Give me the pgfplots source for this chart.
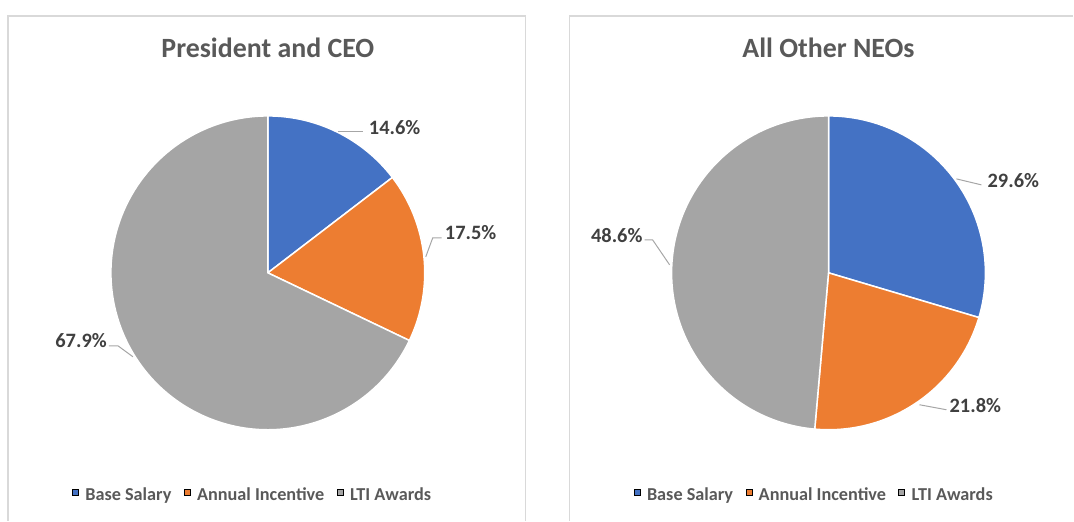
\documentclass[border=0pt]{standalone}
\usepackage{pgfplots}
\pgfplotsset{compat=1.18}
\usepackage{fontspec}
\setmainfont{Carlito}

\definecolor{sblue}{HTML}{4472C4}
\definecolor{sorange}{HTML}{ED7D31}
\definecolor{sgray}{HTML}{A5A5A5}
\definecolor{ttext}{HTML}{595959}
\definecolor{ltext}{HTML}{404040}
\definecolor{frame}{HTML}{D9D9D9}
\definecolor{lead}{HTML}{A6A6A6}

\pgfplotsset{
  panel/.style={
    x=1bp, y=1bp, xmin=0, xmax=1074, ymin=0, ymax=521,
    scale only axis, hide axis, clip=false,
    at={(0,0)}, anchor=south west,
    legend columns=3,
    legend image code/.code={\fill[##1] (0bp,-1bp) rectangle (6bp,5bp);
      \path[draw=none, fill=none] (0bp,0bp) rectangle (11bp,0bp);},
    legend style={draw=none, fill=none, inner sep=0pt, anchor=west,
      font=\fontsize{18.3}{22}\selectfont\bfseries, text=ttext,
      /tikz/every even column/.append style={column sep=10.5bp}},
  },
}
\tikzset{
  slice/.style={draw=white, line width=1.5bp},
  leader/.style={lead, line width=1bp},
  lbl/.style={inner sep=0pt, text=ltext, font=\fontsize{20.5}{24}\selectfont\bfseries},
  ttl/.style={inner sep=0pt, text=ttext, font=\fontsize{28}{32}\selectfont\bfseries},
}

\begin{document}
\begin{tikzpicture}
% left panel: President and CEO (14.6 / 17.5 / 67.9)
\begin{axis}[panel, legend style={at={(axis cs:72,26)}}]
\path (axis cs:0,0) rectangle (axis cs:1074,521);
\draw[frame, line width=1.3bp] (axis cs:8,0) -- (axis cs:8,505) -- (axis cs:526,505) -- (axis cs:526,0);
\node[ttl] at (axis cs:268,473) {President and CEO};

\fill[sblue, slice] (axis cs:268,248) -- ++(90:157bp)
  arc[start angle=90, delta angle=-14.6*3.6, radius=157bp] -- cycle;
\fill[sorange, slice] (axis cs:268,248) -- ++({90-14.6*3.6}:157bp)
  arc[start angle={90-14.6*3.6}, delta angle=-17.5*3.6, radius=157bp] -- cycle;
\fill[sgray, slice] (axis cs:268,248) -- ++({90-32.1*3.6}:157bp)
  arc[start angle={90-32.1*3.6}, delta angle=-67.9*3.6, radius=157bp] -- cycle;

\draw[leader] (axis cs:338,389) -- (axis cs:363,389);
\node[lbl, anchor=west] at (axis cs:369,393) {14.6\%};
\draw[leader] (axis cs:426,264) -- (axis cs:433,283) -- (axis cs:442,283);
\node[lbl, anchor=west] at (axis cs:445,288) {17.5\%};
\draw[leader] (axis cs:133,164) -- (axis cs:118,175) -- (axis cs:109,175);
\node[lbl, anchor=east] at (axis cs:107,180) {67.9\%};

\addlegendimage{fill=sblue}
\addlegendentry{Base Salary}
\addlegendimage{fill=sorange}
\addlegendentry{Annual Incentive}
\addlegendimage{fill=sgray}
\addlegendentry{LTI Awards}
\end{axis}

% right panel: All Other NEOs (29.6 / 21.8 / 48.6)
\begin{axis}[panel, legend style={at={(axis cs:634,26)}}]
\draw[frame, line width=1.3bp] (axis cs:570,0) -- (axis cs:570,505) -- (axis cs:1074,505);
\node[ttl] at (axis cs:829,473) {All Other NEOs};

\fill[sblue, slice] (axis cs:829,248) -- ++(90:157bp)
  arc[start angle=90, delta angle=-29.6*3.6, radius=157bp] -- cycle;
\fill[sorange, slice] (axis cs:829,248) -- ++({90-29.6*3.6}:157bp)
  arc[start angle={90-29.6*3.6}, delta angle=-21.8*3.6, radius=157bp] -- cycle;
\fill[sgray, slice] (axis cs:829,248) -- ++({90-51.4*3.6}:157bp)
  arc[start angle={90-51.4*3.6}, delta angle=-48.6*3.6, radius=157bp] -- cycle;

\draw[leader] (axis cs:957,342) -- (axis cs:982,336);
\node[lbl, anchor=west] at (axis cs:988,340) {29.6\%};
\draw[leader] (axis cs:920,116) -- (axis cs:947,111);
\node[lbl, anchor=west] at (axis cs:950,115) {21.8\%};
\draw[leader] (axis cs:670,256) -- (axis cs:653,281) -- (axis cs:645,281);
\node[lbl, anchor=east] at (axis cs:643,285) {48.6\%};

\addlegendimage{fill=sblue}
\addlegendentry{Base Salary}
\addlegendimage{fill=sorange}
\addlegendentry{Annual Incentive}
\addlegendimage{fill=sgray}
\addlegendentry{LTI Awards}
\end{axis}
\end{tikzpicture}
\end{document}
